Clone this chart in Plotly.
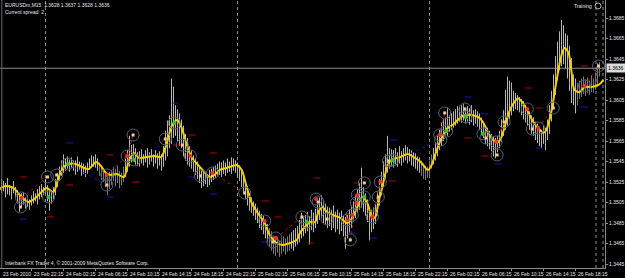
import plotly.graph_objects as go

BASE = 1.3400
PIP = 0.0001

# 15-minute bars starting 23 Feb 2010 18:15 (values in pips above 1.3400)
bar_low = [
    112, 114, 116, 110, 113, 112, 108, 114, 110, 104, 96, 100, 103, 99, 101, 98,
    102, 104, 106, 103, 108, 110, 112, 113, 106, 97, 104, 108, 112, 120, 126, 131,
    134, 136, 138, 135, 139, 136, 132, 135, 137, 131, 133, 130, 133, 137, 139, 140,
    139, 136, 131, 127, 125, 120, 112, 118, 122, 126, 121, 124, 119, 122, 125, 130,
    135, 140, 144, 146, 142, 141, 140, 143, 141, 144, 139, 142, 145, 140, 143, 138,
    141, 136, 140, 146, 150, 158, 162, 168, 170, 165, 160, 158, 150, 146, 142, 140,
    138, 135, 132, 128, 124, 119, 121, 123, 120, 122, 125, 127, 129, 131, 132, 130,
    133, 131, 134, 135, 133, 136, 134, 130, 126, 120, 114, 108, 102, 97, 95, 92,
    88, 85, 80, 78, 74, 70, 66, 62, 58, 55, 53, 56, 52, 55, 57, 54,
    57, 58, 60, 58, 62, 64, 66, 70, 72, 75, 77, 64, 78, 76, 80, 84,
    88, 90, 85, 84, 80, 82, 78, 80, 76, 79, 74, 77, 72, 60, 70, 75,
    80, 86, 90, 95, 98, 100, 96, 92, 86, 68, 76, 79, 84, 92, 102, 112,
    120, 128, 134, 138, 140, 139, 142, 140, 143, 141, 144, 146, 143, 145, 141, 140,
    138, 136, 134, 131, 128, 127, 129, 131, 138, 142, 146, 150, 156, 160, 165, 170,
    170, 174, 176, 178, 180, 182, 184, 183, 185, 182, 184, 181, 183, 180, 182, 179,
    176, 172, 168, 162, 160, 157, 155, 150, 148, 154, 158, 164, 170, 176, 180, 186,
    190, 194, 196, 195, 193, 190, 186, 183, 180, 176, 172, 170, 166, 163, 160, 158,
    162, 156, 166, 172, 184, 196, 210, 224, 234, 238, 240, 236, 226, 214, 202, 200,
    192, 200, 206, 208, 211, 209, 212, 210, 213, 212, 215, 218, 228,
]
bar_high = [
    124, 128, 126, 124, 129, 122, 121, 126, 120, 117, 112, 114, 115, 110, 112, 108,
    112, 116, 114, 118, 121, 123, 120, 128, 122, 118, 116, 120, 128, 134, 140, 146,
    152, 148, 150, 147, 149, 146, 146, 150, 145, 144, 143, 141, 144, 148, 151, 150,
    152, 148, 144, 141, 137, 134, 130, 135, 137, 140, 138, 141, 136, 134, 140, 148,
    156, 170, 161, 162, 158, 154, 155, 157, 152, 156, 158, 154, 157, 152, 156, 153,
    155, 152, 160, 175, 185, 190, 226, 218, 200, 196, 192, 186, 180, 172, 168, 160,
    156, 151, 148, 145, 140, 138, 136, 135, 133, 137, 138, 140, 141, 143, 145, 144,
    146, 144, 148, 145, 149, 148, 146, 144, 141, 138, 132, 126, 121, 114, 110, 106,
    104, 100, 97, 94, 92, 88, 84, 80, 77, 72, 70, 71, 68, 69, 72, 70,
    72, 74, 76, 78, 80, 82, 88, 95, 90, 93, 96, 92, 98, 95, 99, 104,
    110, 112, 106, 104, 101, 100, 98, 102, 96, 98, 95, 97, 92, 91, 93, 98,
    102, 106, 112, 118, 124, 139, 120, 114, 108, 100, 98, 100, 104, 116, 128, 135,
    145, 152, 170, 158, 157, 156, 158, 154, 160, 155, 158, 161, 159, 157, 156, 154,
    153, 150, 149, 146, 143, 141, 140, 146, 152, 158, 164, 170, 176, 183, 186, 188,
    197, 190, 192, 194, 196, 199, 198, 200, 201, 196, 199, 197, 200, 195, 196, 194,
    192, 188, 184, 180, 178, 175, 172, 170, 168, 170, 175, 186, 195, 215, 228, 224,
    222, 214, 212, 210, 208, 206, 204, 200, 197, 194, 190, 188, 184, 182, 178, 176,
    180, 178, 186, 200, 214, 230, 248, 262, 272, 283, 278, 270, 268, 258, 246, 230,
    226, 222, 224, 226, 228, 225, 227, 224, 229, 226, 232, 241, 242,
]

# smoothed (yellow) line: bar offset, value in pips above 1.3400
ma_bar = [-0.6, 2.9, 6.9, 11.0, 14.5, 18.0, 21.0, 23.5, 27.0, 29.6,
          32.1, 34.6, 38.1, 41.1, 44.6, 48.2, 50.7, 53.2, 55.7, 58.7,
          62.2, 64.8, 67.3, 69.8, 73.3, 77.3, 80.8, 83.4, 85.9, 87.4,
          88.9, 90.9, 93.4, 95.9, 98.4, 101.5, 105.0, 107.5, 110.0, 113.5,
          116.5, 118.6, 121.1, 123.6, 126.1, 129.1, 132.6, 135.1, 138.6, 141.7,
          145.2, 148.7, 150.2, 152.7, 155.3, 157.8, 159.3, 161.3, 163.8, 166.8,
          170.4, 173.9, 176.4, 178.9, 181.4, 183.9, 186.4, 187.9, 189.4, 191.4,
          193.0, 194.5, 197.0, 200.5, 204.0, 207.0, 210.6, 214.1, 215.6, 218.1,
          220.6, 224.1, 226.6, 229.1, 232.2, 235.7, 239.2, 241.7, 244.2, 246.8,
          249.3, 250.8, 253.3, 255.8, 259.3, 261.9, 264.4, 266.9, 269.4, 271.9,
          273.4, 275.9, 278.4, 281.0, 282.5, 284.5, 286.0, 287.5, 290.0, 292.5,
          296.0, 299.5, 302.0]
ma_val = [117.2, 121.1, 119.2, 110.4, 105.5, 109.4, 115.3, 119.2, 115.3, 129.9,
          139.7, 142.6, 142.6, 139.7, 137.7, 144.6, 140.7, 133.8, 131.9, 132.8,
          129.9, 146.5, 153.3, 148.5, 149.4, 150.4, 149.4, 161.1, 178.7, 183.6,
          185.5, 178.7, 163.1, 149.4, 143.6, 136.7, 129.9, 131.9, 136.7, 138.7,
          140.7, 141.6, 136.7, 120.2, 104.5, 94.8, 85.0, 73.3, 65.5, 63.6,
          65.5, 68.5, 75.3, 81.1, 86.0, 86.0, 94.8, 100.6, 95.8, 92.8,
          89.9, 85.0, 89.9, 100.6, 110.4, 104.5, 89.9, 90.9, 104.5, 120.2,
          133.8, 143.6, 147.5, 149.4, 152.4, 149.4, 144.6, 136.7, 139.7, 153.3,
          166.0, 177.7, 180.7, 185.5, 190.4, 190.4, 188.5, 183.6, 173.8, 166.0,
          164.1, 168.0, 183.6, 197.8, 206.6, 201.7, 192.9, 183.6, 177.7, 172.8,
          175.8, 193.3, 222.6, 249.0, 255.8, 250.9, 232.4, 214.8, 212.8, 217.7,
          217.7, 219.7, 224.6]

# signal markers (circled): bar offset, pips, kind r/g/o
sig_bar = [11.0, 10.5, 24.0, 24.5, 28.6, 34.1, 53.7, 53.7, 63.8, 66.8, 67.3,
           82.9, 87.4, 91.4, 95.4, 100.5, 106.5, 122.6, 132.6, 138.2, 136.7,
           151.2, 153.7, 158.3, 159.3, 163.8, 173.9, 175.4, 176.4, 178.4, 178.9,
           182.4, 182.4, 186.4, 189.4, 190.4, 194.5, 196.5, 220.1, 220.6, 222.6,
           223.6, 232.7, 233.2, 241.7, 243.2, 248.3, 248.8, 252.3, 263.9, 266.4,
           269.4, 276.9, 292.5, 299.5]
sig_val = [109.4, 100.6, 129.9, 110.4, 131.9, 142.6, 131.9, 122.1, 150.4, 170.9, 146.5,
           167.0, 182.6, 161.1, 150.4, 130.9, 133.8, 114.3, 87.0, 70.4, 66.5,
           90.9, 86.0, 108.5, 105.5, 88.9, 88.0, 68.5, 92.8, 104.5, 112.4,
           110.4, 124.1, 90.9, 110.4, 125.0, 145.5, 146.5, 170.9, 166.0, 192.4,
           174.8, 196.3, 188.5, 171.9, 168.0, 164.1, 151.4, 183.6, 196.3, 176.7,
           177.7, 197.2, 218.7, 238.2]
sig_kind = ["r", "o", "o", "g", "o", "g", "r", "o", "r", "o", "g",
            "o", "g", "o", "r", "o", "r", "o", "r", "r", "o",
            "o", "g", "r", "o", "o", "r", "o", "r", "r", "r",
            "g", "o", "r", "o", "r", "o", "g", "r", "o", "o",
            "g", "o", "g", "g", "o", "r", "o", "o", "r", "o",
            "r", "o", "r", "o"]

# short level dashes
red_dash_bar = [12.0, 25.5, 35.1, 55.2, 68.3, 96.4, 88.4, 107.0, 133.1, 139.2,
                158.8, 155.3, 178.9, 196.5, 234.2, 242.7, 264.4, 269.9, 292.5]
red_dash_val = [129.9, 90.9, 122.1, 151.4, 125.0, 170.9, 161.1, 153.3, 106.5, 90.9,
                128.9, 65.5, 124.1, 126.0, 168.0, 150.4, 216.7, 197.2, 238.2]
blue_dash_bar = [35.1, 12.0, 55.2, 87.9, 96.4, 107.0, 132.6, 197.0, 186.9, 176.4,
                 234.2, 242.7, 249.3, 269.9, 292.5]
blue_dash_val = [163.1, 88.9, 110.4, 202.1, 129.9, 113.3, 66.5, 166.0, 70.4, 75.3,
                 208.0, 191.4, 142.6, 158.2, 198.2]

# dotted connector segments: (bar0, val0, bar1, val1)
red_links = [(11.0, 109.4, 24.0, 129.9), (53.7, 131.9, 63.8, 150.4), (63.8, 150.4, 66.8, 170.9),
             (106.5, 133.8, 122.6, 114.3), (138.2, 70.4, 151.2, 90.9), (175.4, 68.5, 178.9, 112.4),
             (186.4, 90.9, 190.4, 125.0), (220.1, 170.9, 222.6, 192.4), (248.3, 164.1, 252.3, 183.6),
             (269.4, 177.7, 276.9, 197.2), (292.5, 218.7, 299.5, 238.2)]
blue_links = [(34.1, 142.6, 53.7, 122.1), (74.5, 150.4, 82.9, 167.0), (203.0, 150.0, 215.0, 162.0),
              (233.2, 188.5, 241.7, 171.9)]

day_breaks = [23, 119, 215]
x_tick_bars = list(range(0, 289, 16))
x_tick_text = ["23 Feb 2010", "23 Feb 22:15", "24 Feb 02:15", "24 Feb 06:15", "24 Feb 10:15",
               "24 Feb 14:15", "24 Feb 18:15", "24 Feb 22:15", "25 Feb 02:15", "25 Feb 06:15",
               "25 Feb 10:15", "25 Feb 14:15", "25 Feb 18:15", "25 Feb 22:15", "26 Feb 02:15",
               "26 Feb 06:15", "26 Feb 10:15", "26 Feb 14:15", "26 Feb 18:15"]
y_tick_text = ["1.3445", "1.3465", "1.3485", "1.3505", "1.3525", "1.3545", "1.3565",
               "1.3585", "1.3605", "1.3625", "1.3645", "1.3665", "1.3685"]
last_price = 1.3636
header = "EURUSDm,M15  1.3628 1.3637 1.3628 1.3636"
spread_text = "Current spread: 2"
footer = "Interbank FX Trader 4, \u00a9 2001-2009 MetaQuotes Software Corp."

# ---------------------------------------------------------------- figure
W, H = 625, 278
ML, MR, MT, MB = 0, 20, 0, 10
PW, PH = W - ML - MR, H - MT - MB
FONT = "Liberation Sans"
TXT = "#e6e6e6"

def px(p):
    return BASE + p * PIP

dark_spans = [(50, 62), (135, 145), (211, 216), (289, 300)]
def is_dark(i):
    return any(a <= i <= b for a, b in dark_spans)

fig = go.Figure()

for dark, col in [(False, "#b8b6ac"), (True, "#787878")]:
    xs, ys = [], []
    for i, (lo, hi) in enumerate(zip(bar_low, bar_high)):
        if is_dark(i) != dark:
            continue
        xs += [i, i, None]
        ys += [px(lo), px(hi), None]
    fig.add_trace(go.Scatter(x=xs, y=ys, mode="lines",
                             line=dict(color=col, width=1), hoverinfo="skip"))

def link_trace(links, col):
    xs, ys = [], []
    for b0, v0, b1, v1 in links:
        xs += [b0, b1, None]
        ys += [px(v0), px(v1), None]
    return go.Scatter(x=xs, y=ys, mode="lines",
                      line=dict(color=col, width=1, dash="dot"), hoverinfo="skip")

fig.add_trace(link_trace(red_links, "#a01010"))
fig.add_trace(link_trace(blue_links, "#1a1a9a"))

fig.add_trace(go.Scatter(x=red_dash_bar, y=[px(v) for v in red_dash_val], mode="markers",
                         marker=dict(symbol="line-ew", size=5,
                                     line=dict(color="#b00000", width=1)),
                         hoverinfo="skip"))
fig.add_trace(go.Scatter(x=blue_dash_bar, y=[px(v) for v in blue_dash_val], mode="markers",
                         marker=dict(symbol="line-ew", size=5,
                                     line=dict(color="#1818a8", width=1)),
                         hoverinfo="skip"))

fig.add_trace(go.Scatter(x=ma_bar, y=[px(v) for v in ma_val], mode="lines",
                         line=dict(color="#f2cf00", width=2, shape="spline", smoothing=0.8),
                         hoverinfo="skip"))

fig.add_trace(go.Scatter(x=sig_bar, y=[px(v) for v in sig_val], mode="markers",
                         marker=dict(symbol="circle-open", size=12, color="#566074",
                                     line=dict(width=1)),
                         hoverinfo="skip"))
kind_style = {"r": ("circle", "#ff2a2a", 4), "g": ("circle", "#2ec42e", 4),
              "o": ("square", "#efc898", 3)}
for k, (sym, col, sz) in kind_style.items():
    xs = [b for b, kk in zip(sig_bar, sig_kind) if kk == k]
    ys = [px(v) for v, kk in zip(sig_val, sig_kind) if kk == k]
    fig.add_trace(go.Scatter(x=xs, y=ys, mode="markers",
                             marker=dict(symbol=sym, size=sz, color=col, line=dict(width=0)),
                             hoverinfo="skip"))

# exactly 2 px per bar, bars on pixel centres
x_lo = 0.25
x_hi = 0.25 + PW / 2.0
y_lo = px(41.1)
y_hi = px(302.6)

shapes = []
for b in day_breaks:
    shapes.append(dict(type="line", xref="x", yref="paper", x0=b, x1=b, y0=0, y1=1,
                       line=dict(color="#8a8a8a", width=1, dash="dot"), layer="below"))
for fx in [(596 - ML) / PW, (603 - ML) / PW]:
    shapes.append(dict(type="line", xref="paper", yref="paper", x0=fx, x1=fx, y0=0, y1=1,
                       line=dict(color="#8a8a8a", width=1, dash="dot"), layer="below"))
shapes.append(dict(type="line", xref="paper", yref="y", x0=0, x1=1, y0=last_price, y1=last_price,
                   line=dict(color="#8c8c8c", width=1), layer="below"))
shapes.append(dict(type="line", xref="paper", yref="paper", x0=0.003, x1=0.003, y0=0, y1=1,
                   line=dict(color="#6a6a6a", width=1)))
# Training icon
shapes.append(dict(type="circle", xref="paper", yref="paper",
                   x0=(595 - ML) / PW, x1=(601 - ML) / PW, y0=1 - 9 / PH, y1=1 - 3 / PH,
                   line=dict(color="#b0b0b0", width=1)))

ann = []
for b, t in zip(x_tick_bars, x_tick_text):
    xb = max(b, x_lo + 0.5)
    ann.append(dict(x=xb, y=0, xref="x", yref="paper", text=t, showarrow=False,
                    xanchor="left", yanchor="top", yshift=-1, xshift=0,
                    font=dict(family=FONT, size=5, color=TXT)))
ann.append(dict(x=1, y=last_price, xref="paper", yref="y", text=f"{last_price:.4f}",
                showarrow=False, xanchor="left", yanchor="middle", xshift=1,
                bgcolor="#dcdcdc", borderpad=1, font=dict(family=FONT, size=5, color="#000000")))
def corner(text, x, y, anchor="left"):
    return dict(x=(x - ML) / PW, y=1 - (y - MT) / PH, xref="paper", yref="paper", text=text,
                showarrow=False, xanchor=anchor, yanchor="middle",
                font=dict(family=FONT, size=5, color=TXT))
ann.append(corner(header, 3, 5))
ann.append(corner(spread_text, 3, 12))
ann.append(corner(footer, 3, 263))
ann.append(corner("Training", 594, 6, "right"))

fig.update_layout(
    width=W, height=H, margin=dict(l=ML, r=MR, t=MT, b=MB),
    paper_bgcolor="#000000", plot_bgcolor="#000000",
    showlegend=False, hovermode=False,
    shapes=shapes, annotations=ann,
    xaxis=dict(range=[x_lo, x_hi], showgrid=False, zeroline=False, showline=True,
               linecolor="#8a8a8a", linewidth=1, ticks="outside", ticklen=2, tickcolor="#8a8a8a",
               tickvals=x_tick_bars, showticklabels=False, automargin=False, fixedrange=True),
    yaxis=dict(range=[y_lo, y_hi], side="right", showgrid=False, zeroline=False, showline=True,
               linecolor="#8a8a8a", linewidth=1, ticks="outside", ticklen=2, tickcolor="#8a8a8a",
               tickvals=[float(t) for t in y_tick_text], ticktext=y_tick_text,
               tickfont=dict(family=FONT, size=5, color=TXT), automargin=False, fixedrange=True),
)

fig.write_html("out.html", config={"displayModeBar": False})
